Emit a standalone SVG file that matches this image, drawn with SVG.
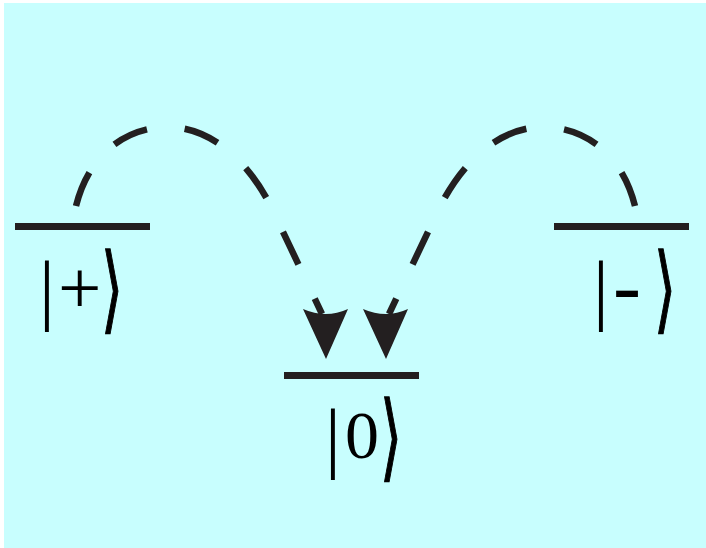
<svg xmlns="http://www.w3.org/2000/svg" width="706" height="548" viewBox="0 0 706 548">
<style>
.level{stroke:#231f20;stroke-width:7;fill:none}
.arc{stroke:#231f20;stroke-width:6.5;fill:none;stroke-dasharray:36 38}
.head{fill:#231f20}
.ket{font-family:"Liberation Serif","Times New Roman",serif;fill:#000}
.bar{font-size:79px}
.sym{font-size:77px}
.hy{font-size:84px}
.zero{font-size:68px}
.br{font-family:"DejaVu Sans ExtraLight","DejaVu Sans",sans-serif;font-weight:200;font-size:95px;stroke:#000;stroke-width:1.4}
</style>
<defs>
<path id="ah" d="M0,0 L-23,-50 Q0,-40 22,-50 Z"/>
</defs>
<rect x="4" y="3" width="702" height="545" fill="#c8fefe"/>
<g id="connectors">
<path class="arc" d="M76,206 C90,150 130,127 168,127 C210,127 250,160 275,215 L322,314"/>
<path class="arc" d="M635,206 C621,150 581,127 543,127 C501,127 461,160 436,215 L389,314"/>
<use href="#ah" class="head" x="326" y="359"/>
<use href="#ah" class="head" x="386" y="359"/>
</g>
<g id="plus">
<line class="level" x1="15" y1="226.5" x2="150" y2="226.5"/>
<text class="ket" y="315"><tspan class="bar" x="39">|</tspan><tspan class="sym" x="58" y="313">+</tspan><tspan class="br" x="101" y="321" textLength="22" lengthAdjust="spacingAndGlyphs">⟩</tspan></text>
</g>
<g id="minus">
<line class="level" x1="554" y1="226.5" x2="689" y2="226.5"/>
<text class="ket" y="315"><tspan class="bar" x="593">|</tspan><tspan class="hy" x="613" y="314">-</tspan><tspan class="br" x="654" y="321" textLength="22" lengthAdjust="spacingAndGlyphs">⟩</tspan></text>
</g>
<g id="zero">
<line class="level" x1="284" y1="375.5" x2="419" y2="375.5"/>
<text class="ket" y="463"><tspan class="bar" x="325">|</tspan><tspan class="zero" x="345" y="458">0</tspan><tspan class="br" x="380" y="469" textLength="22" lengthAdjust="spacingAndGlyphs">⟩</tspan></text>
</g>
</svg>
